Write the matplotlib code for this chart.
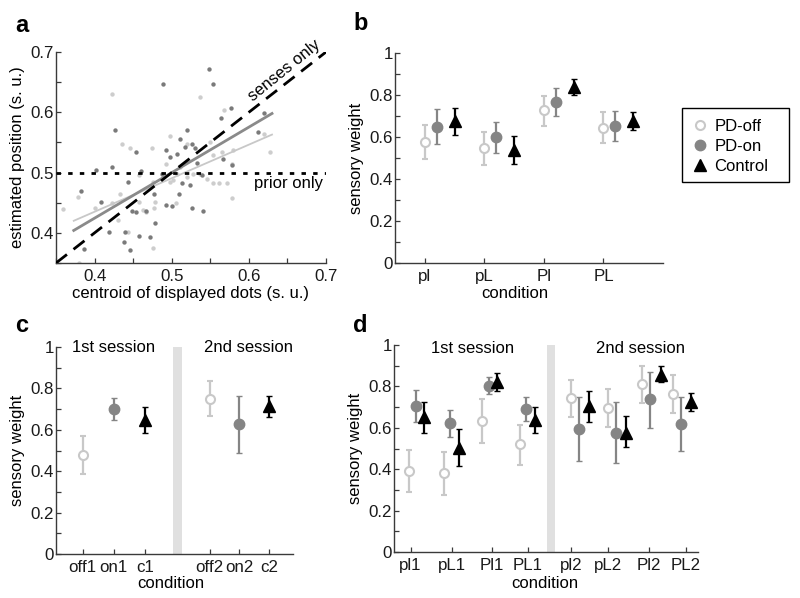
import matplotlib
matplotlib.use('Agg')
import matplotlib.pyplot as plt
import numpy as np
from matplotlib.lines import Line2D
from matplotlib.patches import Rectangle

plt.rcParams['font.family'] = ['Liberation Sans', 'DejaVu Sans']
plt.rcParams['font.size'] = 12

# ---------------- data ----------------
# panel a: scatter (dark = PD-on, light = PD-off)
a_dark_x = [0.548, 0.554, 0.489, 0.426, 0.564, 0.577, 0.619, 0.612, 0.520, 0.511,
            0.526, 0.530, 0.517, 0.507, 0.493, 0.498, 0.454, 0.422, 0.402, 0.460,
            0.533, 0.566, 0.578, 0.524, 0.513, 0.539, 0.487, 0.443, 0.382, 0.408,
            0.467, 0.477, 0.493, 0.501, 0.509, 0.526, 0.541, 0.449, 0.439, 0.419,
            0.457, 0.472, 0.438, 0.446, 0.386, 0.478, 0.454]
a_dark_y = [0.671, 0.647, 0.647, 0.571, 0.590, 0.607, 0.599, 0.568, 0.570, 0.556,
            0.548, 0.540, 0.542, 0.531, 0.538, 0.526, 0.534, 0.510, 0.504, 0.503,
            0.516, 0.523, 0.512, 0.479, 0.483, 0.496, 0.497, 0.485, 0.469, 0.451,
            0.436, 0.464, 0.446, 0.445, 0.464, 0.442, 0.436, 0.436, 0.401, 0.401,
            0.394, 0.393, 0.385, 0.372, 0.373, 0.417, 0.435]
a_light_x = [0.422, 0.537, 0.435, 0.498, 0.446, 0.474, 0.550, 0.568, 0.520, 0.554,
             0.565, 0.578, 0.580, 0.620, 0.628, 0.493, 0.511, 0.502, 0.528, 0.537,
             0.546, 0.561, 0.572, 0.554, 0.476, 0.457, 0.433, 0.422, 0.457, 0.478,
             0.467, 0.477, 0.463, 0.400, 0.359, 0.378, 0.443, 0.476, 0.430, 0.505,
             0.578, 0.520, 0.498, 0.507, 0.380]
a_light_y = [0.630, 0.625, 0.548, 0.560, 0.540, 0.540, 0.551, 0.604, 0.548, 0.529,
             0.534, 0.515, 0.537, 0.564, 0.534, 0.515, 0.509, 0.487, 0.498, 0.498,
             0.490, 0.482, 0.482, 0.482, 0.485, 0.496, 0.465, 0.449, 0.452, 0.452,
             0.435, 0.441, 0.438, 0.442, 0.440, 0.460, 0.402, 0.375, 0.421, 0.449,
             0.457, 0.493, 0.485, 0.498, 0.350]
# fitted regression lines (end points)
a_fit_x = [0.373, 0.630]
a_fit_dark_y = [0.404, 0.598]
a_fit_light_y = [0.420, 0.563]
a_ideal = [0.35, 0.70]
a_prior = 0.5

# panel b
b_conditions = ['pl', 'pL', 'Pl', 'PL']
b_off_mean = [0.576, 0.547, 0.727, 0.645]
b_off_lo = [0.496, 0.467, 0.653, 0.572]
b_off_hi = [0.655, 0.626, 0.793, 0.719]
b_on_mean = [0.650, 0.599, 0.766, 0.653]
b_on_lo = [0.569, 0.523, 0.701, 0.583]
b_on_hi = [0.733, 0.672, 0.831, 0.722]
b_ctrl_mean = [0.674, 0.539, 0.836, 0.674]
b_ctrl_lo = [0.610, 0.472, 0.798, 0.631]
b_ctrl_hi = [0.738, 0.606, 0.874, 0.719]

# panel c
c_labels = ['off1', 'on1', 'c1', 'off2', 'on2', 'c2']
c_mean = [0.477, 0.700, 0.648, 0.747, 0.626, 0.713]
c_lo = [0.387, 0.648, 0.585, 0.665, 0.490, 0.661]
c_hi = [0.568, 0.755, 0.710, 0.834, 0.761, 0.765]
c_group = ['off', 'on', 'ctrl', 'off', 'on', 'ctrl']

# panel d
d_conditions = ['pl1', 'pL1', 'Pl1', 'PL1', 'pl2', 'pL2', 'Pl2', 'PL2']
d_off_mean = [0.391, 0.380, 0.634, 0.520, 0.742, 0.697, 0.810, 0.763]
d_off_lo = [0.288, 0.275, 0.528, 0.421, 0.651, 0.605, 0.722, 0.670]
d_off_hi = [0.493, 0.485, 0.737, 0.614, 0.831, 0.786, 0.899, 0.855]
d_on_mean = [0.707, 0.622, 0.804, 0.692, 0.594, 0.577, 0.738, 0.619]
d_on_lo = [0.630, 0.557, 0.762, 0.632, 0.441, 0.432, 0.597, 0.487]
d_on_hi = [0.783, 0.686, 0.843, 0.750, 0.747, 0.723, 0.871, 0.750]
d_ctrl_mean = [0.650, 0.503, 0.820, 0.640, 0.705, 0.577, 0.855, 0.724]
d_ctrl_lo = [0.573, 0.415, 0.780, 0.576, 0.630, 0.509, 0.820, 0.681]
d_ctrl_hi = [0.726, 0.592, 0.865, 0.702, 0.778, 0.657, 0.900, 0.769]

legend_labels = ['PD-off', 'PD-on', 'Control']

# ---------------- styles ----------------
OFF_C = '#c8c8c8'
ON_C = '#858585'
CTRL_C = '#000000'
AX_C = '#3a3a3a'
TICK_FS = 12.2
LAB_FS = 12
TXT_FS = 12
STY = {
    'off': dict(fmt='o', mfc='white', mec=OFF_C, mew=1.5, ms=6.5, ecolor=OFF_C, color=OFF_C),
    'on': dict(fmt='o', mfc=ON_C, mec=ON_C, mew=1, ms=7.5, ecolor=ON_C, color=ON_C),
    'ctrl': dict(fmt='^', mfc=CTRL_C, mec=CTRL_C, mew=1, ms=8.5, ecolor=CTRL_C, color=CTRL_C),
}


def errpt(ax, x, m, lo, hi, g):
    m = np.asarray(m, float)
    lo = np.asarray(lo, float)
    hi = np.asarray(hi, float)
    ax.errorbar(x, m, yerr=[m - lo, hi - m], elinewidth=1.6, capsize=2.0,
                capthick=1.6, linestyle='none', zorder=3, **STY[g])


def style_axes(ax):
    for s in ['top', 'right']:
        ax.spines[s].set_visible(False)
    for s in ['left', 'bottom']:
        ax.spines[s].set_color(AX_C)
        ax.spines[s].set_linewidth(1.0)
    ax.tick_params(direction='in', length=3.5, width=0.9, color=AX_C,
                   labelsize=TICK_FS, labelcolor='#1a1a1a')
    ax.tick_params(axis='x', pad=4.0)
    ax.tick_params(axis='y', pad=1.5)


def weight_yaxis(ax):
    ax.set_ylim(0, 1)
    t = np.round(np.arange(0, 1.01, 0.1), 1)
    ax.set_yticks(t)
    ax.set_yticklabels(['0', '', '0.2', '', '0.4', '', '0.6', '', '0.8', '', '1'])
    ax.set_ylabel('sensory weight', fontsize=LAB_FS, labelpad=4)


fig = plt.figure(figsize=(8.0, 5.98), dpi=100)
W, H = 800.0, 598.0


def axes_px(l, t, r, b):
    return fig.add_axes([l / W, 1 - b / H, (r - l) / W, (b - t) / H])


def cond_label(ax, xfrac, ytop):
    ax.set_xlabel('condition', fontsize=LAB_FS)
    ax.xaxis.set_label_coords(xfrac, ytop)


# ---------------- panel a ----------------
ax = axes_px(56, 52, 326, 263)
style_axes(ax)
ax.scatter(a_light_x, a_light_y, s=10, color='#cdcdcd', linewidths=0, zorder=2)
ax.scatter(a_dark_x, a_dark_y, s=10, color='#7a7a7a', linewidths=0, zorder=2)
ax.plot(a_fit_x, a_fit_light_y, color='#c8c8c8', lw=1.3, zorder=3)
ax.plot(a_fit_x, a_fit_dark_y, color='#8a8a8a', lw=2.0, zorder=3)
ax.plot(a_ideal, a_ideal, color='black', lw=2.0, dashes=(5, 3), zorder=4)
ax.plot(a_ideal, [a_prior, a_prior], color='black', lw=2.0, dashes=(1.6, 2.6), zorder=4)
ax.set_xlim(0.35, 0.7)
ax.set_ylim(0.35, 0.7)
xt = np.round(np.arange(0.35, 0.701, 0.05), 2)
lbl = ['' if abs(v * 10 - round(v * 10)) > 1e-6 else f'{v:.1f}' for v in xt]
ax.set_xticks(xt)
ax.set_xticklabels(lbl)
ax.set_yticks(xt)
ax.set_yticklabels(lbl)
ax.set_xlabel('centroid of displayed dots (s. u.)', fontsize=LAB_FS)
ax.xaxis.set_label_coords(0.5, -0.108)
ax.set_ylabel('estimated position (s. u.)', fontsize=LAB_FS, labelpad=4)
ax.text(0.646, 0.670, 'senses only', rotation=39, ha='center', va='center', fontsize=TXT_FS)
ax.text(0.651, 0.482, 'prior only', ha='center', va='center', fontsize=TXT_FS)

# ---------------- panel b ----------------
ax = axes_px(395, 53, 663, 263)
style_axes(ax)
weight_yaxis(ax)
xb = np.arange(1, len(b_conditions) + 1)
errpt(ax, xb, b_off_mean, b_off_lo, b_off_hi, 'off')
errpt(ax, xb + 0.2, b_on_mean, b_on_lo, b_on_hi, 'on')
errpt(ax, xb + 0.5, b_ctrl_mean, b_ctrl_lo, b_ctrl_hi, 'ctrl')
ax.set_xlim(0.5, 5.0)
ax.set_xticks(xb)
ax.set_xticklabels(b_conditions)
cond_label(ax, 0.446, -0.108)

# legend (frame drawn as a figure rectangle to match the reference box)
handles = [
    Line2D([], [], marker='o', ls='none', mfc='white', mec=OFF_C, mew=1.5, ms=6.5),
    Line2D([], [], marker='o', ls='none', mfc=ON_C, mec=ON_C, ms=7.5),
    Line2D([], [], marker='^', ls='none', mfc=CTRL_C, mec=CTRL_C, ms=8),
]
leg = fig.legend(handles, legend_labels, loc='upper left',
                 bbox_to_anchor=(692 / W, 1 - 119 / H), frameon=False,
                 fontsize=12, handlelength=1.0, handletextpad=0.35, borderpad=0,
                 labelspacing=0.3, borderaxespad=0)
fig.patches.append(Rectangle((682 / W, 1 - 182 / H), 107 / W, 74 / H,
                             transform=fig.transFigure, fill=False,
                             edgecolor='black', linewidth=1.0))

# ---------------- panel c ----------------
ax = axes_px(56, 347, 293, 554)
style_axes(ax)
weight_yaxis(ax)
xc = [1, 2, 3, 5.1, 6.05, 7]
for i in range(len(c_labels)):
    errpt(ax, [xc[i]], [c_mean[i]], [c_lo[i]], [c_hi[i]], c_group[i])
ax.axvspan(4.06 - 0.135, 4.06 + 0.135, ymin=0, ymax=1, color='#e0e0e0', lw=0, zorder=1)
ax.set_xlim(0.14, 7.78)
ax.set_xticks(xc)
ax.set_xticklabels(c_labels)
cond_label(ax, 0.485, -0.108)
ax.text(2.0, 1.0, '1st session', ha='center', va='center', fontsize=TXT_FS)
ax.text(6.35, 1.0, '2nd session', ha='center', va='center', fontsize=TXT_FS)

# ---------------- panel d ----------------
ax = axes_px(394, 345, 698, 552)
style_axes(ax)
weight_yaxis(ax)
d_ticks = [1, 2.07, 3.1, 4.03, 5.15, 6.12, 7.16, 8.13]
d_base = np.array([0.96, 1.86, 2.85, 3.83, 5.15, 6.10, 7.0, 7.80])
on_dx = np.array([0.17] * 4 + [0.21] * 4)
ct_dx = np.array([0.39] * 4 + [0.47] * 4)
errpt(ax, d_base, d_off_mean, d_off_lo, d_off_hi, 'off')
errpt(ax, d_base + on_dx, d_on_mean, d_on_lo, d_on_hi, 'on')
errpt(ax, d_base + ct_dx, d_ctrl_mean, d_ctrl_lo, d_ctrl_hi, 'ctrl')
ax.axvspan(4.63 - 0.108, 4.63 + 0.108, ymin=0, ymax=1, color='#e0e0e0', lw=0, zorder=1)
ax.set_xlim(0.57, 8.44)
ax.set_xticks(d_ticks)
ax.set_xticklabels(d_conditions)
cond_label(ax, 0.497, -0.115)
ax.text(2.61, 0.985, '1st session', ha='center', va='center', fontsize=TXT_FS)
ax.text(6.94, 0.985, '2nd session', ha='center', va='center', fontsize=TXT_FS)

# ---------------- panel letters ----------------
for lab, (px, py) in {'a': (22, 26), 'b': (361, 24), 'c': (22, 326), 'd': (360, 326)}.items():
    fig.text(px / W, 1 - py / H, lab, fontsize=17, fontweight='bold', ha='center', va='center')

fig.savefig('out.png', dpi=100)
